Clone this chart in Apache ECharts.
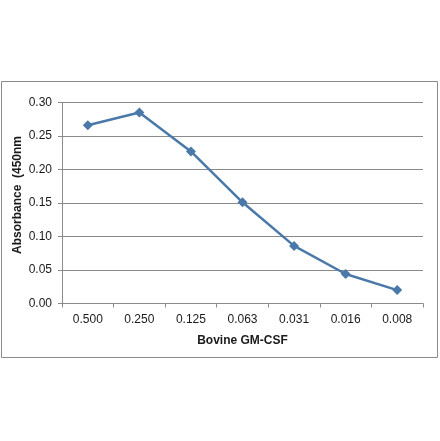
<!DOCTYPE html>
<html>
<head>
<meta charset="utf-8">
<script src="https://cdn.jsdelivr.net/npm/echarts@6/dist/echarts.min.js"></script>
<style>
html, body { margin: 0; padding: 0; background: #fff; }
#main { width: 440px; height: 441px; }
</style>
</head>
<body>
<div id="main"></div>
<script>
var doses = ['0.500', '0.250', '0.125', '0.063', '0.031', '0.016', '0.008'];
var absorbance = [0.266, 0.285, 0.227, 0.151, 0.086, 0.044, 0.020];
var yTitle = 'Absorbance  (450nm';
var xTitle = 'Bovine GM-CSF';

var chart = echarts.init(document.getElementById('main'));

var option = {
    animation: false,
    backgroundColor: '#fff',
    graphic: [{
        type: 'rect',
        shape: { x: 1.5, y: 81.5, width: 436, height: 276 },
        style: { fill: 'none', stroke: '#8a8a8a', lineWidth: 1 },
        silent: true
    }, {
        type: 'text',
        x: 18,
        y: 195,
        rotation: Math.PI / 2,
        style: {
            text: yTitle,
            fontFamily: 'Liberation Sans',
            fontWeight: 'bold',
            fontSize: 12,
            fill: '#1a1a1a',
            align: 'center',
            verticalAlign: 'middle'
        }
    }],
    grid: {
        left: 62,
        right: 17,
        top: 102.5,
        bottom: 137.5
    },
    xAxis: {
        type: 'category',
        data: doses,
        boundaryGap: true,
        name: xTitle,
        nameLocation: 'middle',
        nameGap: 31,
        nameTextStyle: {
            fontFamily: 'Liberation Sans',
            fontWeight: 'bold',
            fontSize: 12,
            color: '#1a1a1a'
        },
        axisLine: { lineStyle: { color: '#8a8a8a', width: 1 } },
        axisTick: { show: true, length: 4, lineStyle: { color: '#8a8a8a' } },
        axisLabel: {
            fontFamily: 'Liberation Sans',
            fontSize: 12,
            color: '#1a1a1a',
            margin: 10
        },
        splitLine: { show: false }
    },
    yAxis: {
        type: 'value',
        min: 0,
        max: 0.30,
        interval: 0.05,
        axisLine: { show: true, lineStyle: { color: '#8a8a8a', width: 1 } },
        axisTick: { show: true, length: 4, lineStyle: { color: '#8a8a8a' } },
        axisLabel: {
            fontFamily: 'Liberation Sans',
            fontSize: 12,
            color: '#1a1a1a',
            margin: 10,
            formatter: function (v) { return v.toFixed(2); }
        },
        splitLine: { show: true, lineStyle: { color: '#8a8a8a', width: 1 } }
    },
    series: [{
        type: 'line',
        data: absorbance,
        symbol: 'diamond',
        symbolSize: 10,
        lineStyle: { color: '#4a79a9', width: 2.5 },
        itemStyle: { color: '#4a79a9' }
    }]
};

chart.setOption(option);
</script>
</body>
</html>
